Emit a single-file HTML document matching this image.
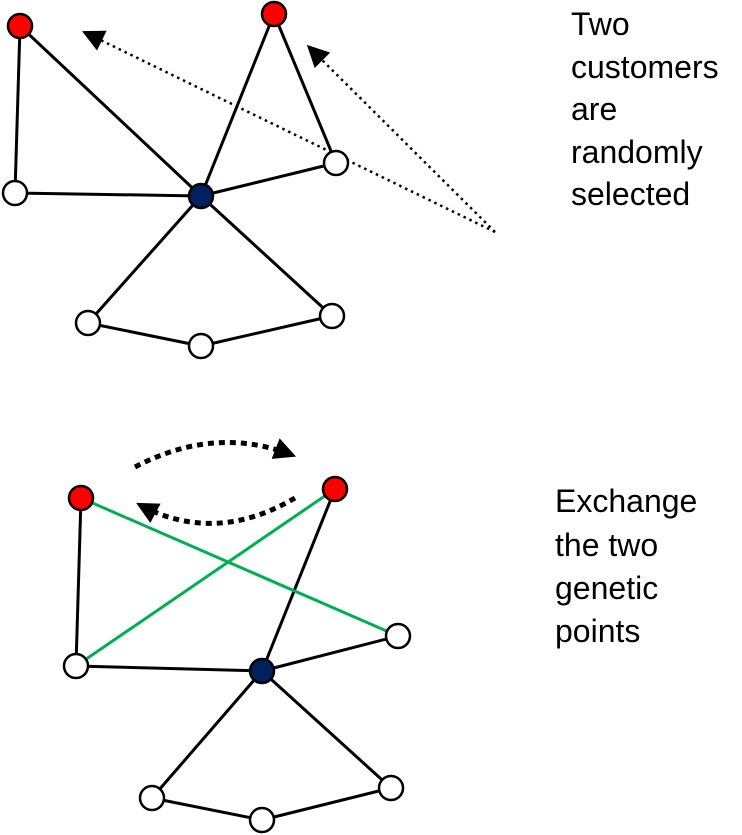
<!DOCTYPE html>
<html><head><style>body{margin:0;background:#fff}svg{display:block}text{font-family:"Liberation Sans",sans-serif;font-size:32px;fill:#000}</style></head><body>
<svg width="742" height="835" viewBox="0 0 742 835">
<defs><marker id="a" markerWidth="10" markerHeight="10" refX="8" refY="5" orient="auto" markerUnits="userSpaceOnUse"><path d="M0,0L10,5L0,10z" fill="#000"/></marker>
<marker id="b" viewBox="0 0 10 10" markerWidth="22" markerHeight="22" refX="8" refY="5" orient="auto" markerUnits="userSpaceOnUse"><path d="M0,0L10,5L0,10z" fill="#000"/></marker></defs>
<g stroke="#000" stroke-width="3" fill="none">
<line x1="20" y1="26" x2="15" y2="193"/><line x1="20" y1="26" x2="201" y2="196"/><line x1="15" y1="193" x2="201" y2="196"/>
<line x1="274" y1="14" x2="201" y2="196"/><line x1="274" y1="14" x2="336" y2="163"/><line x1="336" y1="163" x2="201" y2="196"/>
<line x1="201" y1="196" x2="88" y2="323"/><line x1="201" y1="196" x2="332" y2="316"/><line x1="88" y1="323" x2="201" y2="346"/><line x1="201" y1="346" x2="332" y2="316"/>
<line x1="81" y1="498" x2="76" y2="666"/><line x1="76" y1="666" x2="262" y2="671"/><line x1="335" y1="489" x2="262" y2="671"/><line x1="262" y1="671" x2="398" y2="636"/>
<line x1="262" y1="671" x2="152" y2="798"/><line x1="262" y1="671" x2="391" y2="788"/><line x1="152" y1="798" x2="262" y2="820"/><line x1="262" y1="820" x2="391" y2="788"/>
</g>
<g stroke="#00b050" stroke-width="3"><line x1="81" y1="498" x2="398" y2="636"/><line x1="76" y1="666" x2="335" y2="489"/></g>
<g stroke="#000" stroke-width="2.5" stroke-dasharray="2.5,4" fill="none">
<line x1="495" y1="232" x2="86" y2="33" marker-end="url(#b)"/>
<line x1="495" y1="232" x2="310" y2="48" marker-end="url(#b)"/>
</g>
<g stroke="#000" stroke-width="5" stroke-dasharray="6,5" fill="none">
<path d="M135,467 Q215,425 292,455" marker-end="url(#b)"/>
<path d="M295,498 Q215,545 140,505" marker-end="url(#b)"/>
</g>
<g stroke="#000" stroke-width="2.5">
<circle cx="20" cy="26" r="12" fill="#f00"/><circle cx="274" cy="14" r="12" fill="#f00"/>
<circle cx="15" cy="193" r="12" fill="#fff"/><circle cx="336" cy="163" r="12" fill="#fff"/><circle cx="201" cy="196" r="12" fill="#002060"/>
<circle cx="88" cy="323" r="12" fill="#fff"/><circle cx="201" cy="346" r="12" fill="#fff"/><circle cx="332" cy="316" r="12" fill="#fff"/>
<circle cx="81" cy="498" r="12" fill="#f00"/><circle cx="335" cy="489" r="12" fill="#f00"/>
<circle cx="76" cy="666" r="12" fill="#fff"/><circle cx="398" cy="636" r="12" fill="#fff"/><circle cx="262" cy="671" r="12" fill="#002060"/>
<circle cx="152" cy="798" r="12" fill="#fff"/><circle cx="262" cy="820" r="12" fill="#fff"/><circle cx="391" cy="788" r="12" fill="#fff"/>
</g>
<text x="571" y="35">Two</text><text x="571" y="78">customers</text><text x="571" y="120">are</text><text x="571" y="163">randomly</text><text x="571" y="205">selected</text>
<text x="555" y="512">Exchange</text><text x="555" y="556">the two</text><text x="555" y="599">genetic</text><text x="555" y="642">points</text>
</svg></body></html>
